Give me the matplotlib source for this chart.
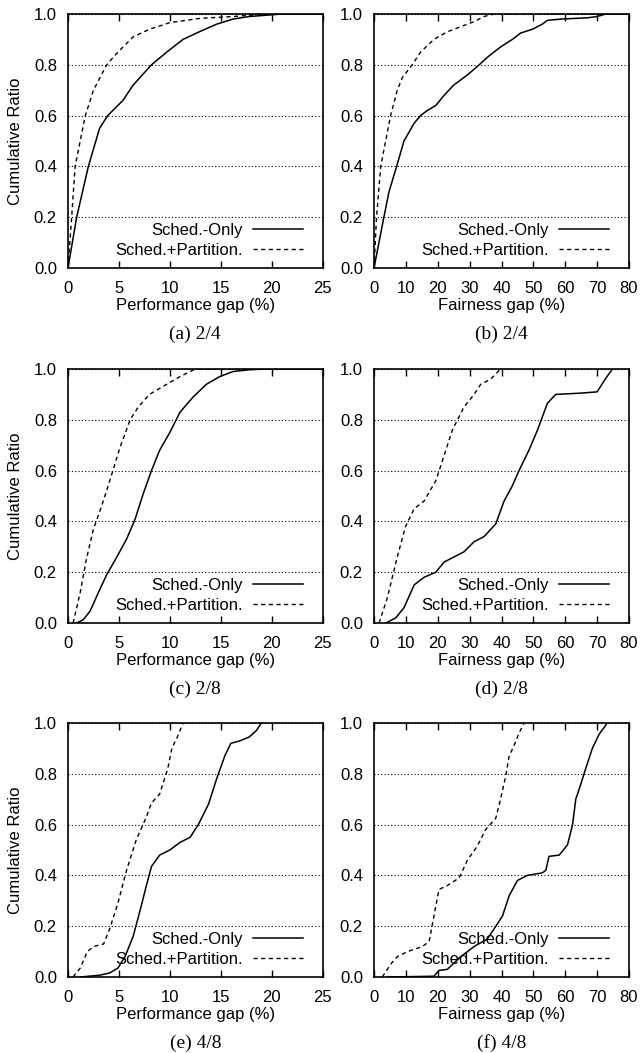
import numpy as np
import matplotlib
matplotlib.use('Agg')
import matplotlib.pyplot as plt

###############################################################################
# data: (gap %, cumulative ratio) pairs

# (a) performance gap 2/4
a_only_x = [0, 0.85, 2.0, 3.1, 3.9, 5.4, 6.4, 8.2, 9.7, 11.3, 12.9, 14.6, 16.2, 17.8, 21, 25]
a_only_y = [0, 0.20, 0.40, 0.55, 0.60, 0.66, 0.72, 0.80, 0.85, 0.90, 0.93, 0.96, 0.98, 0.99, 1.0, 1.0]
a_part_x = [0, 0.36, 0.7, 1.7, 2.5, 3.8, 4.9, 6.4, 8.0, 10, 13, 16.2, 19.5, 25]
a_part_y = [0, 0.20, 0.40, 0.60, 0.70, 0.80, 0.85, 0.91, 0.94, 0.966, 0.983, 0.99, 1.0, 1.0]

# (b) fairness gap 2/4
b_only_x = [0, 3.1, 4.7, 7.1, 9.4, 12.6, 14.6, 16.7, 19.4, 22, 25, 29.3, 33, 35.6, 39.7,
            43.4, 46, 49.7, 52.8, 54.4, 58.6, 67, 70, 72.7, 80]
b_only_y = [0, 0.20, 0.30, 0.40, 0.50, 0.57, 0.60, 0.62, 0.64, 0.68, 0.72, 0.76, 0.80, 0.83, 0.87,
            0.90, 0.925, 0.94, 0.96, 0.975, 0.98, 0.985, 0.99, 1.0, 1.0]
b_part_x = [0, 0.8, 2.1, 5.2, 7.3, 8.9, 12, 14.6, 18.8, 23, 27.2, 31.4, 34.5, 37.7, 80]
b_part_y = [0, 0.20, 0.40, 0.60, 0.70, 0.75, 0.80, 0.85, 0.90, 0.93, 0.95, 0.97, 0.99, 1.0, 1.0]

# (c) performance gap 2/8
c_only_x = [0.85, 1.5, 2.16, 3.1, 3.8, 4.8, 5.75, 6.6, 7.4, 8.2, 9.0, 10, 11, 12.3, 13.6,
            14.9, 16.2, 17.8, 19.5, 25]
c_only_y = [0, 0.013, 0.046, 0.13, 0.19, 0.26, 0.33, 0.41, 0.51, 0.60, 0.68, 0.75, 0.83, 0.89, 0.94,
            0.97, 0.99, 0.997, 1.0, 1.0]
c_part_x = [0.5, 1.2, 1.8, 2.5, 3.3, 4.1, 5.1, 6.1, 6.9, 8.0, 9.7, 11, 12.3, 12.9, 25]
c_part_y = [0, 0.12, 0.25, 0.37, 0.46, 0.56, 0.69, 0.80, 0.85, 0.90, 0.94, 0.97, 0.996, 1.0, 1.0]

# (d) fairness gap 2/8
d_only_x = [3.7, 6.8, 9.4, 12.6, 15.7, 19.4, 22, 25.1, 28.2, 31.4, 34.5, 38.2, 40.8, 43.4,
            45.5, 48.6, 51.3, 54.4, 57, 64.9, 70, 72.7, 74.8]
d_only_y = [0, 0.02, 0.06, 0.15, 0.18, 0.20, 0.24, 0.26, 0.28, 0.32, 0.34, 0.39, 0.48, 0.54,
            0.60, 0.68, 0.76, 0.865, 0.90, 0.905, 0.91, 0.963, 1.0]
d_part_x = [1.6, 4.2, 7.3, 9.9, 12.6, 15.7, 19.4, 22, 24.6, 28.2, 31.4, 33.5, 36.6, 39.7]
d_part_y = [0, 0.10, 0.26, 0.38, 0.45, 0.48, 0.56, 0.66, 0.76, 0.85, 0.90, 0.94, 0.96, 1.0]

# (e) performance gap 4/8
e_only_x = [1.2, 3.1, 4.1, 4.9, 5.6, 6.4, 7.1, 7.7, 8.2, 9.0, 10, 11, 12, 12.8, 13.8, 14.6,
            15.4, 16.0, 16.9, 17.8, 18.5, 19.0]
e_only_y = [0, 0.007, 0.016, 0.035, 0.08, 0.16, 0.265, 0.36, 0.435, 0.48, 0.50, 0.53, 0.55, 0.60,
            0.68, 0.78, 0.87, 0.92, 0.93, 0.945, 0.97, 1.0]
e_part_x = [0.5, 1.2, 1.9, 2.5, 3.5, 4.1, 4.9, 5.75, 6.7, 7.7, 8.2, 9.0, 9.8, 10.2, 10.8, 11.3]
e_part_y = [0, 0.035, 0.10, 0.12, 0.13, 0.19, 0.29, 0.42, 0.54, 0.63, 0.685, 0.72, 0.82, 0.90, 0.95, 1.0]

# (f) fairness gap 4/8
f_only_x = [4.2, 18.8, 20.4, 23, 27.2, 31.4, 35.6, 37.7, 40.3, 42.4, 45, 48.1, 52.8, 53.9, 54.9,
            58.1, 60.7, 62.3, 63.3, 64.9, 66.4, 68.5, 70.6, 73.2]
f_only_y = [0, 0.003, 0.026, 0.03, 0.08, 0.12, 0.15, 0.19, 0.24, 0.32, 0.38, 0.40, 0.41, 0.42, 0.475,
            0.48, 0.52, 0.60, 0.70, 0.76, 0.82, 0.90, 0.955, 1.0]
f_part_x = [2.6, 5.2, 7.3, 10.5, 15.2, 17.3, 18.8, 20.4, 23, 26.7, 29.3, 32.4, 35, 38.2, 39.7,
            41.3, 42.4, 43.9, 45.5, 47.1]
f_part_y = [0, 0.05, 0.08, 0.10, 0.12, 0.14, 0.24, 0.345, 0.36, 0.39, 0.46, 0.515, 0.58, 0.625, 0.70,
            0.79, 0.87, 0.91, 0.96, 1.0]

captions = ['(a) 2/4', '(b) 2/4', '(c) 2/8', '(d) 2/8', '(e) 4/8', '(f) 4/8']
labels = ['Sched.-Only', 'Sched.+Partition.']

###############################################################################
# plot:

W, H = 642, 1053
main_fontsize = 12
plt.rcParams['font.family'] = ['Liberation Sans', 'DejaVu Sans']

fig = plt.figure(figsize=(W / 100., H / 100.), dpi=100)

col_left = [68, 374]
col_w = [254.5, 255]
row_top = [14, 369, 723]
ax_h = 254

panels = [
    (a_only_x, a_only_y, a_part_x, a_part_y, 25, 'Performance gap (%)'),
    (b_only_x, b_only_y, b_part_x, b_part_y, 80, 'Fairness gap (%)'),
    (c_only_x, c_only_y, c_part_x, c_part_y, 25, 'Performance gap (%)'),
    (d_only_x, d_only_y, d_part_x, d_part_y, 80, 'Fairness gap (%)'),
    (e_only_x, e_only_y, e_part_x, e_part_y, 25, 'Performance gap (%)'),
    (f_only_x, f_only_y, f_part_x, f_part_y, 80, 'Fairness gap (%)'),
]

for i, (ox, oy, px, py, xmax, xlabel) in enumerate(panels):
    r, c = i // 2, i % 2
    l = col_left[c]
    w = col_w[c]
    t = row_top[r]
    ax = fig.add_axes([l / W, 1 - (t + ax_h) / H, w / W, ax_h / H])

    ax.plot(ox, oy, color='black', lw=1.1, ls='-', label=labels[0])
    ax.plot(px, py, color='black', lw=1.0, ls=(0, (3, 2.5)), label=labels[1])

    ax.set_xlim(0, xmax)
    ax.set_ylim(0, 1)
    if xmax == 25:
        ax.set_xticks(np.arange(0, 26, 5))
    else:
        ax.set_xticks(np.arange(0, 81, 10))
    ax.set_yticks(np.arange(0, 1.01, 0.2))
    ax.set_yticklabels(['%.1f' % v for v in np.arange(0, 1.01, 0.2)])

    ax.yaxis.grid(True, color='black', ls=(0, (1, 2)), lw=0.8)
    ax.tick_params(axis='x', direction='in', top=True, length=5, width=1, pad=9.5,
                   labelsize=main_fontsize)
    ax.tick_params(axis='y', direction='in', length=0, pad=8, labelsize=main_fontsize)
    for s in ax.spines.values():
        s.set_linewidth(1.2)

    ax.set_xlabel(xlabel, fontsize=main_fontsize, labelpad=1)
    if c == 0:
        ax.set_ylabel('Cumulative Ratio', fontsize=main_fontsize, labelpad=8)

    ax.legend(loc='lower right', bbox_to_anchor=(1 - 20. / w, 10. / ax_h),
              borderaxespad=0, borderpad=0, frameon=False, markerfirst=False,
              handlelength=3.0, handletextpad=0.6, labelspacing=0.3,
              fontsize=main_fontsize)

    fig.text((l + w / 2.) / W, 1 - (t + ax_h + 66) / H, captions[i],
             ha='center', va='center', fontsize=14,
             family=['Liberation Serif', 'DejaVu Serif'])

fig.savefig('out.png', dpi=100)
